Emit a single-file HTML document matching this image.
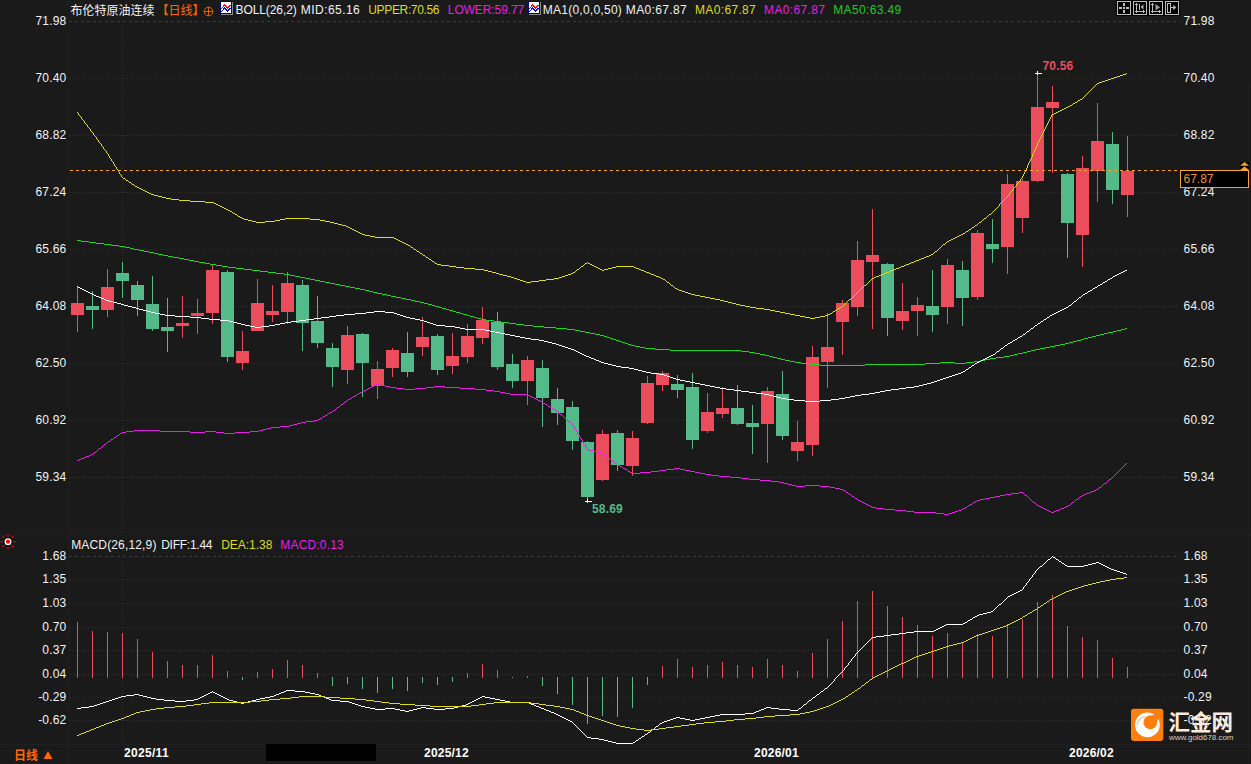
<!DOCTYPE html><html><head><meta charset="utf-8"><title>chart</title><style>html,body{margin:0;padding:0;background:#1a1a1a;}body{width:1251px;height:764px;overflow:hidden;font-family:"Liberation Sans",sans-serif;}</style></head><body><svg width="1251" height="764" viewBox="0 0 1251 764" style="display:block">
<rect x="0" y="0" width="1251" height="764" fill="#1a1a1a"/>
<g shape-rendering="crispEdges">
<rect x="69" y="0" width="1" height="764" fill="#1f1f1f"/>
<rect x="0" y="535" width="1251" height="1" fill="#1f1f1f"/>
<rect x="0" y="744" width="1251" height="1" fill="#202020"/>
<rect x="1248" y="83" width="1" height="681" fill="#1f1f1f"/>
<line x1="70" y1="78.5" x2="1180" y2="78.5" stroke="#323232" stroke-width="1" stroke-dasharray="1 2"/>
<line x1="70" y1="135.5" x2="1180" y2="135.5" stroke="#323232" stroke-width="1" stroke-dasharray="1 2"/>
<line x1="70" y1="192.5" x2="1180" y2="192.5" stroke="#323232" stroke-width="1" stroke-dasharray="1 2"/>
<line x1="70" y1="249.5" x2="1180" y2="249.5" stroke="#323232" stroke-width="1" stroke-dasharray="1 2"/>
<line x1="70" y1="306.5" x2="1180" y2="306.5" stroke="#323232" stroke-width="1" stroke-dasharray="1 2"/>
<line x1="70" y1="363.5" x2="1180" y2="363.5" stroke="#323232" stroke-width="1" stroke-dasharray="1 2"/>
<line x1="70" y1="420.5" x2="1180" y2="420.5" stroke="#323232" stroke-width="1" stroke-dasharray="1 2"/>
<line x1="70" y1="477.5" x2="1180" y2="477.5" stroke="#323232" stroke-width="1" stroke-dasharray="1 2"/>
<line x1="69" y1="21.5" x2="1180" y2="21.5" stroke="#3a3a3a" stroke-width="1" stroke-dasharray="3 3"/>
<line x1="70" y1="579.5" x2="1180" y2="579.5" stroke="#323232" stroke-width="1" stroke-dasharray="1 2"/>
<line x1="70" y1="603.5" x2="1180" y2="603.5" stroke="#323232" stroke-width="1" stroke-dasharray="1 2"/>
<line x1="70" y1="627.5" x2="1180" y2="627.5" stroke="#323232" stroke-width="1" stroke-dasharray="1 2"/>
<line x1="70" y1="650.5" x2="1180" y2="650.5" stroke="#323232" stroke-width="1" stroke-dasharray="1 2"/>
<line x1="70" y1="674.5" x2="1180" y2="674.5" stroke="#323232" stroke-width="1" stroke-dasharray="1 2"/>
<line x1="70" y1="697.5" x2="1180" y2="697.5" stroke="#323232" stroke-width="1" stroke-dasharray="1 2"/>
<line x1="70" y1="720.5" x2="1180" y2="720.5" stroke="#323232" stroke-width="1" stroke-dasharray="1 2"/>
<line x1="69" y1="556.5" x2="1180" y2="556.5" stroke="#3a3a3a" stroke-width="1" stroke-dasharray="3 3"/>
<line x1="122.5" y1="21" x2="122.5" y2="534" stroke="#323232" stroke-width="1" stroke-dasharray="1 2"/>
<line x1="122.5" y1="558" x2="122.5" y2="744" stroke="#323232" stroke-width="1" stroke-dasharray="1 2"/>
</g>
<g shape-rendering="crispEdges">
<rect x="77" y="286" width="1" height="46" fill="#eb4d5d"/>
<rect x="71" y="303" width="13" height="12" fill="#eb4d5d"/>
<rect x="92" y="291" width="1" height="38" fill="#54ba89"/>
<rect x="86" y="306" width="13" height="4" fill="#54ba89"/>
<rect x="107" y="269" width="1" height="48" fill="#eb4d5d"/>
<rect x="101" y="287" width="13" height="23" fill="#eb4d5d"/>
<rect x="122" y="262" width="1" height="36" fill="#54ba89"/>
<rect x="116" y="273" width="13" height="8" fill="#54ba89"/>
<rect x="137" y="281" width="1" height="35" fill="#54ba89"/>
<rect x="131" y="285" width="13" height="15" fill="#54ba89"/>
<rect x="152" y="276" width="1" height="55" fill="#54ba89"/>
<rect x="146" y="304" width="13" height="25" fill="#54ba89"/>
<rect x="167" y="298" width="1" height="54" fill="#54ba89"/>
<rect x="161" y="327" width="13" height="4" fill="#54ba89"/>
<rect x="182" y="296" width="1" height="42" fill="#eb4d5d"/>
<rect x="176" y="323" width="13" height="3" fill="#eb4d5d"/>
<rect x="197" y="299" width="1" height="35" fill="#eb4d5d"/>
<rect x="191" y="313" width="13" height="3" fill="#eb4d5d"/>
<rect x="212" y="265" width="1" height="59" fill="#eb4d5d"/>
<rect x="206" y="270" width="13" height="43" fill="#eb4d5d"/>
<rect x="227" y="270" width="1" height="92" fill="#54ba89"/>
<rect x="221" y="272" width="13" height="85" fill="#54ba89"/>
<rect x="242" y="331" width="1" height="39" fill="#eb4d5d"/>
<rect x="236" y="351" width="13" height="12" fill="#eb4d5d"/>
<rect x="257" y="279" width="1" height="52" fill="#eb4d5d"/>
<rect x="251" y="303" width="13" height="28" fill="#eb4d5d"/>
<rect x="272" y="285" width="1" height="37" fill="#eb4d5d"/>
<rect x="266" y="311" width="13" height="4" fill="#eb4d5d"/>
<rect x="287" y="272" width="1" height="52" fill="#eb4d5d"/>
<rect x="281" y="283" width="13" height="29" fill="#eb4d5d"/>
<rect x="302" y="280" width="1" height="71" fill="#54ba89"/>
<rect x="296" y="285" width="13" height="38" fill="#54ba89"/>
<rect x="317" y="296" width="1" height="52" fill="#54ba89"/>
<rect x="311" y="321" width="13" height="22" fill="#54ba89"/>
<rect x="332" y="343" width="1" height="44" fill="#54ba89"/>
<rect x="326" y="348" width="13" height="19" fill="#54ba89"/>
<rect x="347" y="326" width="1" height="58" fill="#eb4d5d"/>
<rect x="341" y="335" width="13" height="35" fill="#eb4d5d"/>
<rect x="362" y="333" width="1" height="64" fill="#54ba89"/>
<rect x="356" y="334" width="13" height="29" fill="#54ba89"/>
<rect x="377" y="361" width="1" height="38" fill="#eb4d5d"/>
<rect x="371" y="369" width="13" height="17" fill="#eb4d5d"/>
<rect x="392" y="348" width="1" height="29" fill="#eb4d5d"/>
<rect x="386" y="350" width="13" height="18" fill="#eb4d5d"/>
<rect x="407" y="332" width="1" height="45" fill="#54ba89"/>
<rect x="401" y="353" width="13" height="19" fill="#54ba89"/>
<rect x="422" y="317" width="1" height="39" fill="#eb4d5d"/>
<rect x="416" y="337" width="13" height="10" fill="#eb4d5d"/>
<rect x="437" y="334" width="1" height="41" fill="#54ba89"/>
<rect x="431" y="336" width="13" height="34" fill="#54ba89"/>
<rect x="452" y="333" width="1" height="41" fill="#eb4d5d"/>
<rect x="446" y="356" width="13" height="10" fill="#eb4d5d"/>
<rect x="467" y="324" width="1" height="39" fill="#eb4d5d"/>
<rect x="461" y="336" width="13" height="21" fill="#eb4d5d"/>
<rect x="482" y="307" width="1" height="37" fill="#eb4d5d"/>
<rect x="476" y="320" width="13" height="18" fill="#eb4d5d"/>
<rect x="497" y="312" width="1" height="58" fill="#54ba89"/>
<rect x="491" y="322" width="13" height="45" fill="#54ba89"/>
<rect x="512" y="354" width="1" height="34" fill="#54ba89"/>
<rect x="506" y="364" width="13" height="17" fill="#54ba89"/>
<rect x="527" y="356" width="1" height="49" fill="#eb4d5d"/>
<rect x="521" y="360" width="13" height="21" fill="#eb4d5d"/>
<rect x="542" y="360" width="1" height="67" fill="#54ba89"/>
<rect x="536" y="368" width="13" height="30" fill="#54ba89"/>
<rect x="557" y="388" width="1" height="37" fill="#54ba89"/>
<rect x="551" y="399" width="13" height="14" fill="#54ba89"/>
<rect x="572" y="401" width="1" height="49" fill="#54ba89"/>
<rect x="566" y="407" width="13" height="34" fill="#54ba89"/>
<rect x="587" y="441" width="1" height="58" fill="#54ba89"/>
<rect x="581" y="442" width="13" height="55" fill="#54ba89"/>
<rect x="602" y="430" width="1" height="51" fill="#eb4d5d"/>
<rect x="596" y="434" width="13" height="46" fill="#eb4d5d"/>
<rect x="617" y="430" width="1" height="41" fill="#54ba89"/>
<rect x="611" y="433" width="13" height="32" fill="#54ba89"/>
<rect x="632" y="431" width="1" height="45" fill="#eb4d5d"/>
<rect x="626" y="438" width="13" height="28" fill="#eb4d5d"/>
<rect x="647" y="376" width="1" height="48" fill="#eb4d5d"/>
<rect x="641" y="383" width="13" height="40" fill="#eb4d5d"/>
<rect x="662" y="371" width="1" height="20" fill="#eb4d5d"/>
<rect x="656" y="373" width="13" height="12" fill="#eb4d5d"/>
<rect x="677" y="375" width="1" height="23" fill="#54ba89"/>
<rect x="671" y="384" width="13" height="6" fill="#54ba89"/>
<rect x="692" y="373" width="1" height="76" fill="#54ba89"/>
<rect x="686" y="387" width="13" height="53" fill="#54ba89"/>
<rect x="707" y="393" width="1" height="40" fill="#eb4d5d"/>
<rect x="701" y="412" width="13" height="19" fill="#eb4d5d"/>
<rect x="722" y="387" width="1" height="31" fill="#eb4d5d"/>
<rect x="716" y="408" width="13" height="6" fill="#eb4d5d"/>
<rect x="737" y="385" width="1" height="40" fill="#54ba89"/>
<rect x="731" y="408" width="13" height="16" fill="#54ba89"/>
<rect x="752" y="405" width="1" height="49" fill="#54ba89"/>
<rect x="746" y="423" width="13" height="4" fill="#54ba89"/>
<rect x="767" y="387" width="1" height="76" fill="#eb4d5d"/>
<rect x="761" y="391" width="13" height="33" fill="#eb4d5d"/>
<rect x="782" y="371" width="1" height="69" fill="#54ba89"/>
<rect x="776" y="394" width="13" height="42" fill="#54ba89"/>
<rect x="797" y="421" width="1" height="40" fill="#eb4d5d"/>
<rect x="791" y="442" width="13" height="9" fill="#eb4d5d"/>
<rect x="812" y="346" width="1" height="110" fill="#eb4d5d"/>
<rect x="806" y="357" width="13" height="88" fill="#eb4d5d"/>
<rect x="827" y="313" width="1" height="75" fill="#eb4d5d"/>
<rect x="821" y="347" width="13" height="15" fill="#eb4d5d"/>
<rect x="842" y="300" width="1" height="55" fill="#eb4d5d"/>
<rect x="836" y="303" width="13" height="19" fill="#eb4d5d"/>
<rect x="857" y="241" width="1" height="75" fill="#eb4d5d"/>
<rect x="851" y="260" width="13" height="47" fill="#eb4d5d"/>
<rect x="872" y="209" width="1" height="120" fill="#eb4d5d"/>
<rect x="866" y="255" width="13" height="7" fill="#eb4d5d"/>
<rect x="887" y="263" width="1" height="73" fill="#54ba89"/>
<rect x="881" y="264" width="13" height="54" fill="#54ba89"/>
<rect x="902" y="283" width="1" height="47" fill="#eb4d5d"/>
<rect x="896" y="311" width="13" height="10" fill="#eb4d5d"/>
<rect x="917" y="297" width="1" height="39" fill="#eb4d5d"/>
<rect x="911" y="305" width="13" height="6" fill="#eb4d5d"/>
<rect x="932" y="270" width="1" height="62" fill="#54ba89"/>
<rect x="926" y="306" width="13" height="9" fill="#54ba89"/>
<rect x="947" y="259" width="1" height="65" fill="#eb4d5d"/>
<rect x="941" y="265" width="13" height="42" fill="#eb4d5d"/>
<rect x="962" y="261" width="1" height="65" fill="#54ba89"/>
<rect x="956" y="270" width="13" height="28" fill="#54ba89"/>
<rect x="977" y="230" width="1" height="70" fill="#eb4d5d"/>
<rect x="971" y="233" width="13" height="64" fill="#eb4d5d"/>
<rect x="992" y="219" width="1" height="44" fill="#54ba89"/>
<rect x="986" y="244" width="13" height="5" fill="#54ba89"/>
<rect x="1007" y="174" width="1" height="100" fill="#eb4d5d"/>
<rect x="1001" y="184" width="13" height="63" fill="#eb4d5d"/>
<rect x="1022" y="179" width="1" height="54" fill="#eb4d5d"/>
<rect x="1016" y="181" width="13" height="37" fill="#eb4d5d"/>
<rect x="1037" y="75" width="1" height="107" fill="#eb4d5d"/>
<rect x="1031" y="107" width="13" height="74" fill="#eb4d5d"/>
<rect x="1052" y="86" width="1" height="87" fill="#eb4d5d"/>
<rect x="1046" y="102" width="13" height="6" fill="#eb4d5d"/>
<rect x="1067" y="173" width="1" height="85" fill="#54ba89"/>
<rect x="1061" y="174" width="13" height="49" fill="#54ba89"/>
<rect x="1082" y="156" width="1" height="111" fill="#eb4d5d"/>
<rect x="1076" y="168" width="13" height="67" fill="#eb4d5d"/>
<rect x="1097" y="103" width="1" height="99" fill="#eb4d5d"/>
<rect x="1091" y="141" width="13" height="30" fill="#eb4d5d"/>
<rect x="1112" y="132" width="1" height="72" fill="#54ba89"/>
<rect x="1106" y="144" width="13" height="46" fill="#54ba89"/>
<rect x="1127" y="136" width="1" height="81" fill="#eb4d5d"/>
<rect x="1121" y="171" width="13" height="24" fill="#eb4d5d"/>
</g>
<line shape-rendering="crispEdges" x1="70" y1="170.5" x2="1180" y2="170.5" stroke="#f6a233" stroke-width="1" stroke-dasharray="3 3"/>
<path d="M111 245h8v1h-8zM809 364h11v1h-11zM865 364h60v1h-60zM194 261h5v1h-5zM801 363h8v1h-8zM925 363h15v1h-15zM955 363h11v1h-11zM173 257h6v1h-6zM635 346h5v1h-5zM1050 346h5v1h-5zM144 251h5v1h-5zM769 356h4v1h-4zM1004 356h6v1h-6zM820 365h45v1h-45zM125 247h5v1h-5zM244 269h8v1h-8zM453 311h3v1h-3zM544 327h12v1h-12zM640 347h5v1h-5zM1045 347h5v1h-5zM655 349h15v1h-15zM1035 349h5v1h-5zM415 301h5v1h-5zM494 321h7v1h-7zM670 350h71v1h-71zM1031 350h4v1h-4zM396 297h5v1h-5zM613 339h3v1h-3zM1081 339h3v1h-3zM236 268h8v1h-8zM89 242h7v1h-7zM345 286h5v1h-5zM435 306h4v1h-4zM325 282h5v1h-5zM501 322h8v1h-8zM295 276h5v1h-5zM773 357h4v1h-4zM996 357h8v1h-8zM456 312h4v1h-4zM604 336h3v1h-3zM1092 336h4v1h-4zM781 359h4v1h-4zM985 359h5v1h-5zM575 330h5v1h-5zM1117 330h4v1h-4zM96 243h8v1h-8zM216 265h6v1h-6zM260 271h8v1h-8zM377 293h5v1h-5zM600 335h4v1h-4zM1096 335h4v1h-4zM607 337h3v1h-3zM1088 337h4v1h-4zM795 362h6v1h-6zM940 362h15v1h-15zM966 362h8v1h-8zM616 340h3v1h-3zM1077 340h4v1h-4zM567 329h8v1h-8zM1121 329h4v1h-4zM139 250h5v1h-5zM104 244h7v1h-7zM765 355h4v1h-4zM1010 355h4v1h-4zM741 351h8v1h-8zM1027 351h4v1h-4zM411 300h4v1h-4zM382 294h5v1h-5zM556 328h11v1h-11zM1125 328h2v1h-2zM310 279h5v1h-5zM290 275h5v1h-5zM590 333h5v1h-5zM1104 333h4v1h-4zM777 358h4v1h-4zM990 358h6v1h-6zM749 352h6v1h-6zM1023 352h4v1h-4zM610 338h3v1h-3zM1084 338h4v1h-4zM442 308h4v1h-4zM625 343h3v1h-3zM1065 343h4v1h-4zM585 332h5v1h-5zM1108 332h5v1h-5zM163 255h5v1h-5zM460 313h3v1h-3zM524 325h9v1h-9zM481 319h5v1h-5zM619 341h3v1h-3zM1073 341h4v1h-4zM268 272h8v1h-8zM222 266h6v1h-6zM463 314h4v1h-4zM645 348h10v1h-10zM1040 348h5v1h-5zM785 360h5v1h-5zM980 360h5v1h-5zM81 241h8v1h-8zM205 263h5v1h-5zM439 307h3v1h-3zM760 354h5v1h-5zM1014 354h4v1h-4zM252 270h8v1h-8zM210 264h6v1h-6zM420 302h4v1h-4zM401 298h5v1h-5zM628 344h3v1h-3zM1060 344h5v1h-5zM467 315h3v1h-3zM330 283h5v1h-5zM276 273h8v1h-8zM360 289h5v1h-5zM486 320h8v1h-8zM449 310h4v1h-4zM755 353h5v1h-5zM1018 353h5v1h-5zM790 361h5v1h-5zM974 361h6v1h-6zM509 323h7v1h-7zM149 252h5v1h-5zM130 248h4v1h-4zM184 259h5v1h-5zM228 267h8v1h-8zM446 309h3v1h-3zM580 331h5v1h-5zM1113 331h4v1h-4zM631 345h4v1h-4zM1055 345h5v1h-5zM365 290h4v1h-4zM199 262h6v1h-6zM335 284h5v1h-5zM533 326h11v1h-11zM315 280h5v1h-5zM622 342h3v1h-3zM1069 342h4v1h-4zM595 334h5v1h-5zM1100 334h4v1h-4zM474 317h3v1h-3zM369 291h4v1h-4zM350 287h5v1h-5zM516 324h8v1h-8zM300 277h5v1h-5zM119 246h6v1h-6zM77 240h4v1h-4zM470 316h4v1h-4zM154 253h4v1h-4zM424 303h4v1h-4zM355 288h5v1h-5zM305 278h5v1h-5zM134 249h5v1h-5zM406 299h5v1h-5zM387 295h4v1h-4zM284 274h6v1h-6zM391 296h5v1h-5zM320 281h5v1h-5zM158 254h5v1h-5zM189 260h5v1h-5zM428 304h4v1h-4zM477 318h4v1h-4zM432 305h3v1h-3zM373 292h4v1h-4zM340 285h5v1h-5zM179 258h5v1h-5zM168 256h5v1h-5z" fill="#1ed81e" shape-rendering="crispEdges"/>
<path d="M682 291h3v1h-3zM523 281h3v1h-3zM531 281h8v1h-8zM426 257h2v1h-2zM924 257h2v1h-2zM171 199h8v1h-8zM126 180h2v1h-2zM256 222h9v1h-9zM330 222h4v1h-4zM979 222h2v1h-2zM456 267h8v1h-8zM596 267h2v1h-2zM612 267h4v1h-4zM634 267h2v1h-2zM899 267h2v1h-2zM1080 99h2v1h-2zM911 262h3v1h-3zM230 211h2v1h-2zM190 201h15v1h-15zM252 221h4v1h-4zM265 221h10v1h-10zM325 221h5v1h-5zM675 288h2v1h-2zM166 198h5v1h-5zM800 316h5v1h-5zM820 316h5v1h-5zM520 280h3v1h-3zM539 280h7v1h-7zM740 305h5v1h-5zM499 274h4v1h-4zM568 274h3v1h-3zM651 274h3v1h-3zM881 274h3v1h-3zM334 223h4v1h-4zM158 196h4v1h-4zM242 218h2v1h-2zM285 218h25v1h-25zM984 218h2v1h-2zM449 266h7v1h-7zM581 266h2v1h-2zM594 266h2v1h-2zM616 266h18v1h-18zM901 266h3v1h-3zM1117 76h3v1h-3zM224 208h2v1h-2zM770 310h5v1h-5zM835 310h2v1h-2zM123 178h2v1h-2zM475 269h9v1h-9zM577 269h2v1h-2zM600 269h2v1h-2zM604 269h4v1h-4zM639 269h2v1h-2zM894 269h2v1h-2zM162 197h4v1h-4zM226 209h2v1h-2zM375 237h19v1h-19zM955 237h2v1h-2zM724 301h4v1h-4zM705 297h5v1h-5zM805 317h5v1h-5zM815 317h5v1h-5zM926 256h3v1h-3zM785 313h5v1h-5zM830 313h2v1h-2zM464 268h11v1h-11zM598 268h2v1h-2zM608 268h4v1h-4zM636 268h3v1h-3zM896 268h3v1h-3zM179 200h11v1h-11zM370 236h5v1h-5zM957 236h2v1h-2zM435 263h2v1h-2zM585 263h2v1h-2zM588 263h2v1h-2zM909 263h2v1h-2zM745 306h5v1h-5zM132 184h2v1h-2zM685 292h3v1h-3zM756 308h8v1h-8zM838 308h2v1h-2zM775 311h5v1h-5zM833 311h2v1h-2zM728 302h4v1h-4zM503 275h4v1h-4zM565 275h3v1h-3zM654 275h2v1h-2zM879 275h2v1h-2zM810 318h5v1h-5zM1056 112h2v1h-2zM790 314h5v1h-5zM828 314h2v1h-2zM921 258h3v1h-3zM222 207h2v1h-2zM1064 108h2v1h-2zM484 270h4v1h-4zM602 270h2v1h-2zM641 270h3v1h-3zM891 270h3v1h-3zM244 219h4v1h-4zM280 219h5v1h-5zM310 219h10v1h-10zM688 293h3v1h-3zM1102 81h3v1h-3zM338 224h4v1h-4zM248 220h4v1h-4zM275 220h5v1h-5zM320 220h5v1h-5zM526 282h5v1h-5zM667 282h2v1h-2zM507 276h4v1h-4zM562 276h3v1h-3zM656 276h3v1h-3zM876 276h3v1h-3zM348 227h2v1h-2zM972 227h2v1h-2zM671 285h2v1h-2zM864 285h2v1h-2zM1114 77h3v1h-3zM750 307h6v1h-6zM840 307h2v1h-2zM437 264h4v1h-4zM590 264h2v1h-2zM906 264h3v1h-3zM1108 79h3v1h-3zM420 253h2v1h-2zM710 298h5v1h-5zM691 294h4v1h-4zM1078 100h2v1h-2zM931 254h2v1h-2zM795 315h5v1h-5zM825 315h3v1h-3zM214 203h2v1h-2zM764 309h6v1h-6zM205 202h9v1h-9zM441 265h8v1h-8zM592 265h2v1h-2zM904 265h2v1h-2zM715 299h5v1h-5zM849 299h2v1h-2zM511 277h3v1h-3zM559 277h3v1h-3zM659 277h2v1h-2zM874 277h2v1h-2zM1060 110h2v1h-2zM417 251h2v1h-2zM935 251h2v1h-2zM780 312h5v1h-5zM700 296h5v1h-5zM492 272h4v1h-4zM573 272h2v1h-2zM646 272h3v1h-3zM886 272h3v1h-3zM358 232h2v1h-2zM514 278h3v1h-3zM554 278h5v1h-5zM661 278h2v1h-2zM872 278h2v1h-2zM352 229h2v1h-2zM969 229h2v1h-2zM362 234h3v1h-3zM961 234h2v1h-2zM143 190h2v1h-2zM342 225h4v1h-4zM975 225h2v1h-2zM423 255h2v1h-2zM929 255h2v1h-2zM1070 105h2v1h-2zM488 271h4v1h-4zM644 271h2v1h-2zM889 271h2v1h-2zM149 193h2v1h-2zM356 231h2v1h-2zM966 231h2v1h-2zM1075 102h2v1h-2zM432 261h2v1h-2zM914 261h2v1h-2zM732 303h4v1h-4zM151 194h3v1h-3zM517 279h3v1h-3zM546 279h8v1h-8zM663 279h2v1h-2zM145 191h2v1h-2zM360 233h2v1h-2zM963 233h2v1h-2zM137 187h2v1h-2zM238 216h2v1h-2zM496 273h3v1h-3zM571 273h2v1h-2zM649 273h2v1h-2zM884 273h2v1h-2zM695 295h5v1h-5zM1052 114h2v1h-2zM394 238h2v1h-2zM953 238h2v1h-2zM218 205h2v1h-2zM916 260h3v1h-3zM1099 82h3v1h-3zM404 243h2v1h-2zM1058 111h2v1h-2zM141 189h2v1h-2zM402 242h2v1h-2zM235 214h2v1h-2zM989 214h2v1h-2zM1066 107h2v1h-2zM736 304h4v1h-4zM398 240h2v1h-2zM949 240h2v1h-2zM154 195h4v1h-4zM365 235h5v1h-5zM959 235h2v1h-2zM1062 109h2v1h-2zM406 244h2v1h-2zM943 244h2v1h-2zM677 289h2v1h-2zM1111 78h3v1h-3zM135 186h2v1h-2zM129 182h2v1h-2zM408 245h2v1h-2zM233 213h2v1h-2zM1054 113h2v1h-2zM216 204h2v1h-2zM1123 74h3v1h-3zM396 239h2v1h-2zM951 239h2v1h-2zM220 206h2v1h-2zM720 300h4v1h-4zM400 241h2v1h-2zM947 241h2v1h-2zM1097 83h2v1h-2zM1120 75h3v1h-3zM679 290h3v1h-3zM1068 106h2v1h-2zM228 210h2v1h-2zM1073 103h2v1h-2zM147 192h2v1h-2zM139 188h2v1h-2zM346 226h2v1h-2zM350 228h2v1h-2zM414 249h2v1h-2zM429 259h2v1h-2zM919 259h2v1h-2zM354 230h2v1h-2zM240 217h2v1h-2zM411 247h2v1h-2zM1105 80h3v1h-3zM87 125h1v2h-1zM1035 148h1v2h-1zM1037 143h1v3h-1zM1007 196h1v1h-1zM1009 193h1v2h-1zM974 226h1v1h-1zM1029 161h1v2h-1zM1049 119h1v2h-1zM867 283h1v1h-1zM113 162h1v2h-1zM1041 135h1v2h-1zM121 175h1v2h-1zM937 250h1v1h-1zM1082 98h1v1h-1zM79 115h1v1h-1zM88 127h1v1h-1zM122 177h1v1h-1zM1005 198h1v1h-1zM1028 163h1v2h-1zM1006 197h1v1h-1zM978 223h1v1h-1zM128 181h1v1h-1zM98 140h1v2h-1zM860 289h1v1h-1zM101 144h1v2h-1zM1003 200h1v1h-1zM1004 199h1v1h-1zM118 170h1v2h-1zM1047 123h1v2h-1zM1019 181h1v1h-1zM858 291h1v1h-1zM1021 178h1v1h-1zM93 133h1v2h-1zM859 290h1v1h-1zM102 146h1v1h-1zM1033 152h1v2h-1zM1026 168h1v2h-1zM1034 150h1v2h-1zM1032 154h1v3h-1zM1046 125h1v2h-1zM1015 186h1v1h-1zM1017 183h1v1h-1zM1018 182h1v1h-1zM857 292h1v1h-1zM1020 179h1v2h-1zM844 304h1v1h-1zM410 246h1v1h-1zM1001 202h1v1h-1zM579 268h1v1h-1zM939 248h1v1h-1zM1016 184h1v2h-1zM1014 187h1v1h-1zM940 247h1v1h-1zM842 306h1v1h-1zM665 280h1v1h-1zM1039 139h1v2h-1zM1031 157h1v2h-1zM94 135h1v1h-1zM85 123h1v1h-1zM111 159h1v2h-1zM1043 131h1v2h-1zM1045 127h1v2h-1zM1044 129h1v2h-1zM416 250h1v1h-1zM997 207h1v1h-1zM77 112h1v1h-1zM999 204h1v2h-1zM86 124h1v1h-1zM583 265h1v1h-1zM938 249h1v1h-1zM584 264h1v1h-1zM666 281h1v1h-1zM95 136h1v1h-1zM116 167h1v2h-1zM1090 90h1v1h-1zM1024 172h1v2h-1zM995 209h1v1h-1zM673 286h1v1h-1zM587 262h1v1h-1zM109 156h1v2h-1zM1088 92h1v1h-1zM117 169h1v1h-1zM1089 91h1v1h-1zM120 174h1v1h-1zM84 121h1v2h-1zM78 113h1v2h-1zM983 219h1v1h-1zM1030 159h1v2h-1zM1087 93h1v1h-1zM1022 176h1v2h-1zM1040 137h1v2h-1zM1042 133h1v2h-1zM1077 101h1v1h-1zM134 185h1v1h-1zM987 216h1v1h-1zM674 287h1v1h-1zM871 279h1v1h-1zM1002 201h1v1h-1zM103 147h1v2h-1zM428 258h1v1h-1zM856 293h1v1h-1zM422 254h1v1h-1zM106 151h1v2h-1zM114 164h1v2h-1zM1000 203h1v1h-1zM998 206h1v1h-1zM1027 165h1v3h-1zM1008 195h1v1h-1zM232 212h1v1h-1zM1038 141h1v2h-1zM1025 170h1v2h-1zM855 294h1v1h-1zM119 172h1v2h-1zM107 153h1v1h-1zM996 208h1v1h-1zM853 296h1v1h-1zM112 161h1v1h-1zM854 295h1v1h-1zM837 309h1v1h-1zM1126 73h1v1h-1zM115 166h1v1h-1zM131 183h1v1h-1zM1036 146h1v2h-1zM96 137h1v2h-1zM81 117h1v2h-1zM90 129h1v2h-1zM1095 85h1v1h-1zM1050 117h1v2h-1zM1096 84h1v1h-1zM965 232h1v1h-1zM1051 115h1v2h-1zM99 142h1v1h-1zM108 154h1v2h-1zM847 301h1v1h-1zM832 312h1v1h-1zM125 179h1v1h-1zM988 215h1v1h-1zM994 210h1v1h-1zM977 224h1v1h-1zM91 131h1v1h-1zM100 143h1v1h-1zM942 245h1v1h-1zM845 303h1v1h-1zM992 212h1v1h-1zM82 119h1v1h-1zM1012 190h1v1h-1zM981 221h1v1h-1zM1048 121h1v2h-1zM982 220h1v1h-1zM870 280h1v1h-1zM1013 188h1v2h-1zM237 215h1v1h-1zM1085 95h1v1h-1zM968 230h1v1h-1zM1023 174h1v2h-1zM1072 104h1v1h-1zM434 262h1v1h-1zM83 120h1v1h-1zM419 252h1v1h-1zM92 132h1v1h-1zM1083 97h1v1h-1zM971 228h1v1h-1zM1084 96h1v1h-1zM863 286h1v1h-1zM110 158h1v1h-1zM669 283h1v1h-1zM861 288h1v1h-1zM862 287h1v1h-1zM97 139h1v1h-1zM848 300h1v1h-1zM866 284h1v1h-1zM670 284h1v1h-1zM80 116h1v1h-1zM846 302h1v1h-1zM851 298h1v1h-1zM89 128h1v1h-1zM852 297h1v1h-1zM993 211h1v1h-1zM941 246h1v1h-1zM946 242h1v1h-1zM1086 94h1v1h-1zM576 270h1v1h-1zM1094 86h1v1h-1zM1093 87h1v1h-1zM991 213h1v1h-1zM431 260h1v1h-1zM986 217h1v1h-1zM425 256h1v1h-1zM945 243h1v1h-1zM104 149h1v1h-1zM575 271h1v1h-1zM934 252h1v1h-1zM580 267h1v1h-1zM1092 88h1v1h-1zM843 305h1v1h-1zM413 248h1v1h-1zM1010 192h1v1h-1zM1011 191h1v1h-1zM933 253h1v1h-1zM105 150h1v1h-1zM868 282h1v1h-1zM869 281h1v1h-1zM1091 89h1v1h-1z" fill="#dcdc1e" shape-rendering="crispEdges"/>
<path d="M796 486h9v1h-9zM820 486h10v1h-10zM749 479h11v1h-11zM1109 479h2v1h-2zM364 390h2v1h-2zM486 390h8v1h-8zM593 451h4v1h-4zM868 505h2v1h-2zM968 505h2v1h-2zM1037 505h2v1h-2zM1068 505h2v1h-2zM872 507h4v1h-4zM965 507h2v1h-2zM1041 507h2v1h-2zM1064 507h2v1h-2zM630 472h2v1h-2zM640 472h11v1h-11zM695 472h5v1h-5zM362 391h2v1h-2zM494 391h6v1h-6zM134 430h26v1h-26zM259 430h4v1h-4zM990 497h5v1h-5zM792 485h4v1h-4zM805 485h15v1h-15zM705 474h6v1h-6zM862 502h2v1h-2zM973 502h2v1h-2zM1033 502h2v1h-2zM1072 502h2v1h-2zM368 388h2v1h-2zM396 388h8v1h-8zM415 388h11v1h-11zM460 388h15v1h-15zM122 432h4v1h-4zM190 432h15v1h-15zM216 432h8v1h-8zM235 432h15v1h-15zM330 412h2v1h-2zM108 441h2v1h-2zM623 468h2v1h-2zM674 468h6v1h-6zM79 459h2v1h-2zM1011 493h8v1h-8zM1086 493h3v1h-3zM306 421h8v1h-8zM568 421h2v1h-2zM719 476h11v1h-11zM84 457h2v1h-2zM607 457h2v1h-2zM280 426h9v1h-9zM895 510h11v1h-11zM958 510h3v1h-3zM1047 510h2v1h-2zM1056 510h3v1h-3zM120 433h2v1h-2zM224 433h11v1h-11zM366 389h2v1h-2zM404 389h11v1h-11zM475 389h11v1h-11zM510 394h18v1h-18zM587 449h2v1h-2zM370 387h2v1h-2zM390 387h6v1h-6zM426 387h8v1h-8zM445 387h15v1h-15zM835 488h5v1h-5zM730 477h11v1h-11zM659 470h7v1h-7zM685 470h5v1h-5zM632 473h8v1h-8zM700 473h5v1h-5zM846 492h2v1h-2zM1019 492h4v1h-4zM1089 492h2v1h-2zM126 431h8v1h-8zM160 431h30v1h-30zM205 431h11v1h-11zM250 431h9v1h-9zM914 512h22v1h-22zM952 512h3v1h-3zM1051 512h3v1h-3zM589 450h4v1h-4zM788 484h4v1h-4zM628 471h2v1h-2zM651 471h8v1h-8zM690 471h5v1h-5zM293 424h4v1h-4zM771 481h8v1h-8zM936 513h8v1h-8zM949 513h3v1h-3zM840 489h3v1h-3zM1096 489h2v1h-2zM328 413h2v1h-2zM81 458h3v1h-3zM855 498h2v1h-2zM985 498h5v1h-5zM876 508h8v1h-8zM963 508h2v1h-2zM1043 508h2v1h-2zM1061 508h3v1h-3zM374 385h2v1h-2zM380 385h5v1h-5zM372 386h2v1h-2zM385 386h5v1h-5zM434 386h11v1h-11zM333 410h2v1h-2zM555 410h2v1h-2zM360 392h2v1h-2zM500 392h5v1h-5zM711 475h8v1h-8zM625 469h2v1h-2zM666 469h8v1h-8zM680 469h5v1h-5zM884 509h11v1h-11zM961 509h2v1h-2zM1045 509h2v1h-2zM1059 509h2v1h-2zM843 490h2v1h-2zM1094 490h2v1h-2zM779 482h5v1h-5zM271 427h9v1h-9zM906 511h8v1h-8zM955 511h3v1h-3zM1049 511h2v1h-2zM1054 511h2v1h-2zM741 478h8v1h-8zM760 480h11v1h-11zM104 444h2v1h-2zM358 393h2v1h-2zM505 393h5v1h-5zM94 452h2v1h-2zM597 452h4v1h-4zM944 514h5v1h-5zM980 499h5v1h-5zM1076 499h2v1h-2zM325 415h2v1h-2zM866 504h2v1h-2zM970 504h2v1h-2zM301 422h5v1h-5zM314 420h4v1h-4zM337 407h2v1h-2zM550 407h2v1h-2zM548 406h2v1h-2zM267 428h4v1h-4zM601 453h2v1h-2zM620 466h2v1h-2zM348 399h2v1h-2zM536 399h2v1h-2zM849 494h2v1h-2zM1005 494h6v1h-6zM1084 494h2v1h-2zM341 404h2v1h-2zM545 404h2v1h-2zM870 506h2v1h-2zM1039 506h2v1h-2zM1066 506h2v1h-2zM289 425h4v1h-4zM89 455h2v1h-2zM99 448h2v1h-2zM858 500h2v1h-2zM977 500h3v1h-3zM852 496h2v1h-2zM995 496h5v1h-5zM1080 496h2v1h-2zM860 501h2v1h-2zM975 501h2v1h-2zM376 384h4v1h-4zM91 454h2v1h-2zM603 454h2v1h-2zM114 437h2v1h-2zM1000 495h5v1h-5zM1025 495h2v1h-2zM1082 495h2v1h-2zM830 487h5v1h-5zM1099 487h2v1h-2zM297 423h4v1h-4zM323 416h2v1h-2zM77 460h2v1h-2zM611 460h2v1h-2zM864 503h2v1h-2zM615 463h2v1h-2zM538 400h2v1h-2zM353 396h2v1h-2zM530 396h2v1h-2zM784 483h4v1h-4zM1104 483h2v1h-2zM86 456h3v1h-3zM111 439h2v1h-2zM345 401h2v1h-2zM540 401h2v1h-2zM532 397h2v1h-2zM350 398h2v1h-2zM534 398h2v1h-2zM263 429h4v1h-4zM618 465h2v1h-2zM543 403h2v1h-2zM355 395h2v1h-2zM528 395h2v1h-2zM1091 491h3v1h-3zM560 414h2v1h-2zM320 418h2v1h-2zM553 409h2v1h-2zM318 419h2v1h-2zM117 435h2v1h-2zM1108 480h1v1h-1zM1113 476h1v1h-1zM579 435h1v2h-1zM103 445h1v1h-1zM1102 485h1v1h-1zM1103 484h1v1h-1zM582 440h1v2h-1zM576 430h1v2h-1zM552 408h1v1h-1zM116 436h1v1h-1zM972 503h1v1h-1zM558 412h1v1h-1zM1101 486h1v1h-1zM1030 499h1v1h-1zM107 442h1v1h-1zM610 459h1v1h-1zM96 451h1v1h-1zM1126 463h1v1h-1zM119 434h1v1h-1zM1031 500h1v1h-1zM106 443h1v1h-1zM567 420h1v1h-1zM547 405h1v1h-1zM580 437h1v2h-1zM1032 501h1v1h-1zM1123 466h1v1h-1zM1078 498h1v1h-1zM1124 465h1v1h-1zM542 402h1v1h-1zM322 417h1v1h-1zM585 445h1v2h-1zM1114 475h1v1h-1zM1121 468h1v1h-1zM557 411h1v1h-1zM848 493h1v1h-1zM574 427h1v2h-1zM1122 467h1v1h-1zM609 458h1v1h-1zM343 403h1v1h-1zM577 432h1v2h-1zM1112 477h1v1h-1zM1120 469h1v1h-1zM1107 481h1v1h-1zM332 411h1v1h-1zM622 467h1v1h-1zM617 464h1v1h-1zM1106 482h1v1h-1zM1111 478h1v1h-1zM1023 493h1v1h-1zM559 413h1v1h-1zM110 440h1v1h-1zM1024 494h1v1h-1zM570 422h1v1h-1zM967 506h1v1h-1zM583 442h1v2h-1zM857 499h1v1h-1zM845 491h1v1h-1zM93 453h1v1h-1zM581 439h1v1h-1zM627 470h1v1h-1zM347 400h1v1h-1zM584 444h1v1h-1zM573 425h1v2h-1zM613 461h1v1h-1zM1071 503h1v1h-1zM335 409h1v1h-1zM336 408h1v1h-1zM1118 471h1v1h-1zM1070 504h1v1h-1zM1075 500h1v1h-1zM327 414h1v1h-1zM357 394h1v1h-1zM339 406h1v1h-1zM1116 473h1v1h-1zM340 405h1v1h-1zM1117 472h1v1h-1zM586 447h1v2h-1zM1035 503h1v1h-1zM352 397h1v1h-1zM571 423h1v1h-1zM605 455h1v1h-1zM851 495h1v1h-1zM572 424h1v1h-1zM575 429h1v1h-1zM113 438h1v1h-1zM98 449h1v1h-1zM1098 488h1v1h-1zM606 456h1v1h-1zM565 418h1v1h-1zM97 450h1v1h-1zM102 446h1v1h-1zM566 419h1v1h-1zM1119 470h1v1h-1zM101 447h1v1h-1zM562 415h1v1h-1zM614 462h1v1h-1zM1074 501h1v1h-1zM1125 464h1v1h-1zM344 402h1v1h-1zM1027 496h1v1h-1zM1079 497h1v1h-1zM563 416h1v1h-1zM1028 497h1v1h-1zM854 497h1v1h-1zM1115 474h1v1h-1zM1036 504h1v1h-1zM564 417h1v1h-1zM1029 498h1v1h-1zM578 434h1v1h-1z" fill="#e61ee6" shape-rendering="crispEdges"/>
<path d="M151 312h4v1h-4zM366 312h8v1h-8zM385 312h9v1h-9zM1056 312h2v1h-2zM500 333h5v1h-5zM769 395h4v1h-4zM855 395h6v1h-6zM165 315h10v1h-10zM336 315h8v1h-8zM400 315h3v1h-3zM1050 315h2v1h-2zM685 381h5v1h-5zM934 381h3v1h-3zM121 304h3v1h-3zM720 388h6v1h-6zM899 388h7v1h-7zM101 298h3v1h-3zM160 314h5v1h-5zM344 314h11v1h-11zM397 314h3v1h-3zM1052 314h2v1h-2zM209 319h11v1h-11zM306 319h8v1h-8zM415 319h5v1h-5zM1044 319h2v1h-2zM155 313h5v1h-5zM355 313h11v1h-11zM394 313h3v1h-3zM1054 313h2v1h-2zM773 396h4v1h-4zM850 396h5v1h-5zM1119 273h2v1h-2zM94 295h2v1h-2zM646 372h5v1h-5zM961 372h2v1h-2zM1123 271h2v1h-2zM124 305h4v1h-4zM1069 305h2v1h-2zM255 327h6v1h-6zM455 327h5v1h-5zM190 317h11v1h-11zM321 317h8v1h-8zM406 317h4v1h-4zM1047 317h2v1h-2zM250 326h5v1h-5zM261 326h8v1h-8zM445 326h10v1h-10zM556 344h3v1h-3zM525 338h6v1h-6zM245 325h5v1h-5zM269 325h6v1h-6zM436 325h9v1h-9zM1035 325h2v1h-2zM651 373h8v1h-8zM958 373h3v1h-3zM582 354h2v1h-2zM993 354h2v1h-2zM220 320h9v1h-9zM299 320h7v1h-7zM420 320h4v1h-4zM726 389h8v1h-8zM891 389h8v1h-8zM201 318h8v1h-8zM314 318h7v1h-7zM410 318h5v1h-5zM695 383h5v1h-5zM927 383h4v1h-4zM676 379h4v1h-4zM940 379h3v1h-3zM805 401h15v1h-15zM96 296h3v1h-3zM700 384h5v1h-5zM923 384h4v1h-4zM88 292h2v1h-2zM531 339h8v1h-8zM1015 339h2v1h-2zM576 351h2v1h-2zM997 351h2v1h-2zM465 329h20v1h-20zM80 288h2v1h-2zM1093 288h2v1h-2zM608 364h4v1h-4zM559 345h3v1h-3zM1005 345h2v1h-2zM680 380h5v1h-5zM937 380h3v1h-3zM586 356h3v1h-3zM989 356h2v1h-2zM659 374h5v1h-5zM955 374h3v1h-3zM233 322h4v1h-4zM285 322h6v1h-6zM427 322h3v1h-3zM90 293h2v1h-2zM1085 293h2v1h-2zM82 289h2v1h-2zM710 386h5v1h-5zM914 386h5v1h-5zM505 334h5v1h-5zM1023 334h2v1h-2zM139 309h4v1h-4zM1062 309h2v1h-2zM485 330h5v1h-5zM143 310h4v1h-4zM1060 310h2v1h-2zM539 340h5v1h-5zM1013 340h2v1h-2zM642 371h4v1h-4zM963 371h2v1h-2zM741 391h8v1h-8zM880 391h5v1h-5zM612 365h4v1h-4zM972 365h2v1h-2zM109 301h4v1h-4zM1074 301h2v1h-2zM777 397h4v1h-4zM845 397h5v1h-5zM520 337h5v1h-5zM1018 337h2v1h-2zM715 387h5v1h-5zM906 387h8v1h-8zM490 331h5v1h-5zM1027 331h2v1h-2zM147 311h4v1h-4zM374 311h11v1h-11zM1058 311h2v1h-2zM794 400h11v1h-11zM820 400h11v1h-11zM86 291h2v1h-2zM1088 291h2v1h-2zM128 306h4v1h-4zM78 287h2v1h-2zM1095 287h2v1h-2zM664 375h3v1h-3zM952 375h3v1h-3zM1115 275h2v1h-2zM786 399h8v1h-8zM831 399h8v1h-8zM734 390h7v1h-7zM885 390h6v1h-6zM104 299h2v1h-2zM229 321h4v1h-4zM291 321h8v1h-8zM424 321h3v1h-3zM1041 321h2v1h-2zM562 346h3v1h-3zM621 367h8v1h-8zM969 367h2v1h-2zM237 323h4v1h-4zM280 323h5v1h-5zM430 323h3v1h-3zM1038 323h2v1h-2zM175 316h15v1h-15zM329 316h7v1h-7zM403 316h3v1h-3zM756 393h8v1h-8zM869 393h6v1h-6zM544 341h4v1h-4zM616 366h5v1h-5zM565 347h3v1h-3zM781 398h5v1h-5zM839 398h6v1h-6zM629 368h5v1h-5zM495 332h5v1h-5zM574 350h2v1h-2zM510 335h5v1h-5zM764 394h5v1h-5zM861 394h8v1h-8zM749 392h7v1h-7zM875 392h5v1h-5zM667 376h3v1h-3zM949 376h3v1h-3zM106 300h3v1h-3zM117 303h4v1h-4zM690 382h5v1h-5zM931 382h3v1h-3zM241 324h4v1h-4zM275 324h5v1h-5zM433 324h3v1h-3zM1103 282h2v1h-2zM578 352h2v1h-2zM568 348h3v1h-3zM1001 348h2v1h-2zM634 369h4v1h-4zM966 369h2v1h-2zM705 385h5v1h-5zM919 385h4v1h-4zM1108 279h2v1h-2zM571 349h3v1h-3zM596 360h3v1h-3zM981 360h2v1h-2zM584 355h2v1h-2zM991 355h2v1h-2zM589 357h2v1h-2zM987 357h2v1h-2zM599 361h2v1h-2zM979 361h2v1h-2zM670 377h3v1h-3zM946 377h3v1h-3zM132 307h4v1h-4zM1066 307h2v1h-2zM548 342h4v1h-4zM1010 342h2v1h-2zM673 378h3v1h-3zM943 378h3v1h-3zM591 358h3v1h-3zM985 358h2v1h-2zM113 302h4v1h-4zM136 308h3v1h-3zM1064 308h2v1h-2zM99 297h2v1h-2zM1079 297h2v1h-2zM1100 284h2v1h-2zM92 294h2v1h-2zM1083 294h2v1h-2zM1117 274h2v1h-2zM580 353h2v1h-2zM601 362h3v1h-3zM977 362h2v1h-2zM460 328h5v1h-5zM1031 328h2v1h-2zM594 359h2v1h-2zM983 359h2v1h-2zM638 370h4v1h-4zM515 336h5v1h-5zM1020 336h2v1h-2zM1113 276h2v1h-2zM1105 281h2v1h-2zM1110 278h2v1h-2zM604 363h4v1h-4zM975 363h2v1h-2zM552 343h4v1h-4zM1008 343h2v1h-2zM1098 285h2v1h-2zM1125 270h2v1h-2zM84 290h2v1h-2zM1090 290h2v1h-2zM1121 272h2v1h-2zM1107 280h1v1h-1zM77 286h1v1h-1zM965 370h1v1h-1zM1012 341h1v1h-1zM999 350h1v1h-1zM1087 292h1v1h-1zM1004 346h1v1h-1zM1033 327h1v1h-1zM1034 326h1v1h-1zM1003 347h1v1h-1zM1068 306h1v1h-1zM1046 318h1v1h-1zM1073 302h1v1h-1zM1102 283h1v1h-1zM1078 298h1v1h-1zM968 368h1v1h-1zM1037 324h1v1h-1zM1071 304h1v1h-1zM1072 303h1v1h-1zM1077 299h1v1h-1zM1007 344h1v1h-1zM1049 316h1v1h-1zM1076 300h1v1h-1zM1081 296h1v1h-1zM1022 335h1v1h-1zM1082 295h1v1h-1zM1097 286h1v1h-1zM971 366h1v1h-1zM1112 277h1v1h-1zM1026 332h1v1h-1zM1040 322h1v1h-1zM996 352h1v1h-1zM974 364h1v1h-1zM1017 338h1v1h-1zM1092 289h1v1h-1zM995 353h1v1h-1zM1025 333h1v1h-1zM1043 320h1v1h-1zM1000 349h1v1h-1zM1029 330h1v1h-1zM1030 329h1v1h-1z" fill="#ffffff" shape-rendering="crispEdges"/>
<g shape-rendering="crispEdges">
<rect x="77" y="622" width="1" height="56" fill="#eb4d5d"/>
<rect x="92" y="631" width="1" height="47" fill="#eb4d5d"/>
<rect x="107" y="632" width="1" height="46" fill="#eb4d5d"/>
<rect x="122" y="633" width="1" height="45" fill="#eb4d5d"/>
<rect x="137" y="639" width="1" height="39" fill="#eb4d5d"/>
<rect x="152" y="652" width="1" height="26" fill="#eb4d5d"/>
<rect x="167" y="661" width="1" height="17" fill="#eb4d5d"/>
<rect x="182" y="665" width="1" height="13" fill="#eb4d5d"/>
<rect x="197" y="665" width="1" height="13" fill="#eb4d5d"/>
<rect x="212" y="655" width="1" height="23" fill="#eb4d5d"/>
<rect x="227" y="671" width="1" height="7" fill="#eb4d5d"/>
<rect x="242" y="677" width="1" height="3" fill="#54ba89"/>
<rect x="257" y="672" width="1" height="6" fill="#eb4d5d"/>
<rect x="272" y="669" width="1" height="9" fill="#eb4d5d"/>
<rect x="287" y="660" width="1" height="18" fill="#eb4d5d"/>
<rect x="302" y="665" width="1" height="13" fill="#eb4d5d"/>
<rect x="317" y="673" width="1" height="5" fill="#eb4d5d"/>
<rect x="332" y="677" width="1" height="9" fill="#54ba89"/>
<rect x="347" y="677" width="1" height="7" fill="#54ba89"/>
<rect x="362" y="677" width="1" height="12" fill="#54ba89"/>
<rect x="377" y="677" width="1" height="16" fill="#54ba89"/>
<rect x="392" y="677" width="1" height="12" fill="#54ba89"/>
<rect x="407" y="677" width="1" height="14" fill="#54ba89"/>
<rect x="422" y="677" width="1" height="6" fill="#54ba89"/>
<rect x="437" y="677" width="1" height="8" fill="#54ba89"/>
<rect x="452" y="677" width="1" height="5" fill="#54ba89"/>
<rect x="467" y="673" width="1" height="5" fill="#eb4d5d"/>
<rect x="482" y="664" width="1" height="14" fill="#eb4d5d"/>
<rect x="497" y="670" width="1" height="8" fill="#eb4d5d"/>
<rect x="512" y="677" width="1" height="1" fill="#54ba89"/>
<rect x="527" y="676" width="1" height="2" fill="#eb4d5d"/>
<rect x="542" y="677" width="1" height="9" fill="#54ba89"/>
<rect x="557" y="677" width="1" height="17" fill="#54ba89"/>
<rect x="572" y="677" width="1" height="28" fill="#54ba89"/>
<rect x="587" y="677" width="1" height="47" fill="#54ba89"/>
<rect x="602" y="677" width="1" height="39" fill="#54ba89"/>
<rect x="617" y="677" width="1" height="40" fill="#54ba89"/>
<rect x="632" y="677" width="1" height="31" fill="#54ba89"/>
<rect x="647" y="677" width="1" height="8" fill="#54ba89"/>
<rect x="662" y="666" width="1" height="12" fill="#eb4d5d"/>
<rect x="677" y="659" width="1" height="19" fill="#eb4d5d"/>
<rect x="692" y="667" width="1" height="11" fill="#eb4d5d"/>
<rect x="707" y="665" width="1" height="13" fill="#eb4d5d"/>
<rect x="722" y="662" width="1" height="16" fill="#eb4d5d"/>
<rect x="737" y="665" width="1" height="13" fill="#eb4d5d"/>
<rect x="752" y="667" width="1" height="11" fill="#eb4d5d"/>
<rect x="767" y="659" width="1" height="19" fill="#eb4d5d"/>
<rect x="782" y="665" width="1" height="13" fill="#eb4d5d"/>
<rect x="797" y="671" width="1" height="7" fill="#eb4d5d"/>
<rect x="812" y="653" width="1" height="25" fill="#eb4d5d"/>
<rect x="827" y="639" width="1" height="39" fill="#eb4d5d"/>
<rect x="842" y="621" width="1" height="57" fill="#eb4d5d"/>
<rect x="857" y="601" width="1" height="77" fill="#eb4d5d"/>
<rect x="872" y="591" width="1" height="87" fill="#eb4d5d"/>
<rect x="887" y="606" width="1" height="72" fill="#eb4d5d"/>
<rect x="902" y="617" width="1" height="61" fill="#eb4d5d"/>
<rect x="917" y="625" width="1" height="53" fill="#eb4d5d"/>
<rect x="932" y="636" width="1" height="42" fill="#eb4d5d"/>
<rect x="947" y="633" width="1" height="45" fill="#eb4d5d"/>
<rect x="962" y="643" width="1" height="35" fill="#eb4d5d"/>
<rect x="977" y="634" width="1" height="44" fill="#eb4d5d"/>
<rect x="992" y="636" width="1" height="42" fill="#eb4d5d"/>
<rect x="1007" y="624" width="1" height="54" fill="#eb4d5d"/>
<rect x="1022" y="619" width="1" height="59" fill="#eb4d5d"/>
<rect x="1037" y="602" width="1" height="76" fill="#eb4d5d"/>
<rect x="1052" y="595" width="1" height="83" fill="#eb4d5d"/>
<rect x="1067" y="626" width="1" height="52" fill="#eb4d5d"/>
<rect x="1082" y="637" width="1" height="41" fill="#eb4d5d"/>
<rect x="1097" y="640" width="1" height="38" fill="#eb4d5d"/>
<rect x="1112" y="658" width="1" height="20" fill="#eb4d5d"/>
<rect x="1127" y="667" width="1" height="11" fill="#eb4d5d"/>
</g>
<path d="M126 695h8v1h-8zM139 695h4v1h-4zM204 695h2v1h-2zM219 695h2v1h-2zM274 695h2v1h-2zM319 695h2v1h-2zM103 702h3v1h-3zM237 702h4v1h-4zM244 702h4v1h-4zM349 702h3v1h-3zM470 702h2v1h-2zM510 702h19v1h-19zM564 718h2v1h-2zM673 718h3v1h-3zM680 718h5v1h-5zM700 718h5v1h-5zM558 715h2v1h-2zM715 715h5v1h-5zM616 743h17v1h-17zM587 737h4v1h-4zM599 739h5v1h-5zM77 708h4v1h-4zM370 708h5v1h-5zM385 708h10v1h-10zM417 708h4v1h-4zM426 708h8v1h-8zM445 708h9v1h-9zM541 708h3v1h-3zM764 708h2v1h-2zM771 708h8v1h-8zM799 708h2v1h-2zM109 700h3v1h-3zM164 700h11v1h-11zM186 700h8v1h-8zM229 700h4v1h-4zM252 700h4v1h-4zM331 700h9v1h-9zM474 700h2v1h-2zM500 700h5v1h-5zM809 700h2v1h-2zM375 709h10v1h-10zM395 709h5v1h-5zM413 709h4v1h-4zM434 709h11v1h-11zM544 709h2v1h-2zM761 709h3v1h-3zM779 709h11v1h-11zM1059 561h2v1h-2zM100 703h3v1h-3zM241 703h3v1h-3zM352 703h3v1h-3zM468 703h2v1h-2zM529 703h2v1h-2zM208 693h2v1h-2zM215 693h2v1h-2zM279 693h2v1h-2zM310 693h5v1h-5zM591 738h8v1h-8zM639 738h2v1h-2zM556 714h2v1h-2zM720 714h25v1h-25zM121 696h5v1h-5zM143 696h4v1h-4zM202 696h2v1h-2zM221 696h2v1h-2zM270 696h4v1h-4zM321 696h3v1h-3zM482 696h3v1h-3zM946 624h17v1h-17zM604 740h4v1h-4zM636 740h2v1h-2zM914 631h20v1h-20zM936 629h2v1h-2zM118 697h3v1h-3zM147 697h4v1h-4zM200 697h2v1h-2zM223 697h2v1h-2zM265 697h5v1h-5zM324 697h2v1h-2zM480 697h2v1h-2zM485 697h5v1h-5zM813 697h2v1h-2zM106 701h3v1h-3zM175 701h11v1h-11zM233 701h4v1h-4zM248 701h4v1h-4zM340 701h9v1h-9zM472 701h2v1h-2zM505 701h5v1h-5zM942 626h2v1h-2zM112 699h3v1h-3zM156 699h8v1h-8zM194 699h4v1h-4zM227 699h2v1h-2zM256 699h4v1h-4zM329 699h2v1h-2zM476 699h2v1h-2zM495 699h5v1h-5zM81 707h8v1h-8zM365 707h5v1h-5zM421 707h5v1h-5zM454 707h4v1h-4zM539 707h2v1h-2zM766 707h5v1h-5zM97 704h3v1h-3zM355 704h3v1h-3zM466 704h2v1h-2zM531 704h3v1h-3zM804 704h2v1h-2zM94 705h3v1h-3zM358 705h3v1h-3zM462 705h4v1h-4zM534 705h2v1h-2zM554 713h2v1h-2zM745 713h9v1h-9zM400 710h5v1h-5zM409 710h4v1h-4zM546 710h3v1h-3zM759 710h2v1h-2zM790 710h8v1h-8zM987 612h4v1h-4zM1020 590h2v1h-2zM1040 566h2v1h-2zM1067 566h17v1h-17zM1105 566h2v1h-2zM1088 564h4v1h-4zM1101 564h2v1h-2zM608 741h4v1h-4zM286 690h9v1h-9zM405 711h4v1h-4zM549 711h2v1h-2zM756 711h3v1h-3zM115 698h3v1h-3zM151 698h5v1h-5zM198 698h2v1h-2zM225 698h2v1h-2zM260 698h5v1h-5zM326 698h3v1h-3zM478 698h2v1h-2zM490 698h5v1h-5zM876 636h8v1h-8zM1048 559h2v1h-2zM1056 559h2v1h-2zM284 691h2v1h-2zM295 691h10v1h-10zM821 691h2v1h-2zM899 633h7v1h-7zM648 732h2v1h-2zM566 719h2v1h-2zM670 719h3v1h-3zM685 719h5v1h-5zM695 719h5v1h-5zM612 742h4v1h-4zM633 742h2v1h-2zM1010 595h2v1h-2zM560 716h2v1h-2zM710 716h5v1h-5zM1096 562h3v1h-3zM884 635h7v1h-7zM938 628h2v1h-2zM134 694h5v1h-5zM206 694h2v1h-2zM217 694h2v1h-2zM276 694h3v1h-3zM315 694h4v1h-4zM817 694h2v1h-2zM1107 567h2v1h-2zM89 706h5v1h-5zM361 706h4v1h-4zM458 706h4v1h-4zM536 706h3v1h-3zM906 632h8v1h-8zM825 688h2v1h-2zM1065 565h2v1h-2zM1084 565h4v1h-4zM1103 565h2v1h-2zM891 634h8v1h-8zM1123 573h3v1h-3zM977 615h2v1h-2zM210 692h2v1h-2zM213 692h2v1h-2zM281 692h3v1h-3zM305 692h5v1h-5zM968 620h2v1h-2zM568 720h2v1h-2zM667 720h3v1h-3zM690 720h5v1h-5zM1109 568h2v1h-2zM570 721h2v1h-2zM664 721h3v1h-3zM973 617h2v1h-2zM1111 569h3v1h-3zM645 734h2v1h-2zM983 613h4v1h-4zM934 630h2v1h-2zM551 712h3v1h-3zM754 712h2v1h-2zM562 717h2v1h-2zM676 717h4v1h-4zM705 717h5v1h-5zM1062 563h2v1h-2zM1092 563h4v1h-4zM1099 563h2v1h-2zM872 637h4v1h-4zM965 622h2v1h-2zM944 625h2v1h-2zM1117 571h3v1h-3zM642 736h2v1h-2zM975 616h2v1h-2zM1120 572h3v1h-3zM1018 591h2v1h-2zM940 627h2v1h-2zM963 623h2v1h-2zM979 614h4v1h-4zM1014 593h2v1h-2zM1053 557h2v1h-2zM656 726h2v1h-2zM1016 592h2v1h-2zM652 729h2v1h-2zM1012 594h2v1h-2zM1114 570h3v1h-3zM991 611h2v1h-2zM1008 596h2v1h-2zM970 619h2v1h-2zM662 722h2v1h-2zM999 604h2v1h-2zM660 723h2v1h-2zM851 659h1v2h-1zM1026 583h1v2h-1zM644 735h1v1h-1zM1028 581h1v1h-1zM1036 570h1v1h-1zM834 679h1v2h-1zM577 727h1v1h-1zM1022 589h1v1h-1zM1024 586h1v1h-1zM1025 585h1v1h-1zM830 684h1v1h-1zM573 723h1v1h-1zM831 683h1v1h-1zM1055 558h1v1h-1zM1061 562h1v1h-1zM574 724h1v1h-1zM829 685h1v1h-1zM819 693h1v1h-1zM993 610h1v1h-1zM994 609h1v1h-1zM865 644h1v1h-1zM828 686h1v1h-1zM803 705h1v1h-1zM808 701h1v1h-1zM655 727h1v1h-1zM863 646h1v1h-1zM864 645h1v1h-1zM798 709h1v1h-1zM575 725h1v1h-1zM807 702h1v1h-1zM861 648h1v1h-1zM659 724h1v1h-1zM862 647h1v1h-1zM802 706h1v1h-1zM835 678h1v1h-1zM843 670h1v1h-1zM1032 575h1v2h-1zM572 722h1v1h-1zM658 725h1v1h-1zM1030 578h1v1h-1zM841 672h1v1h-1zM582 732h1v1h-1zM1027 582h1v1h-1zM578 728h1v1h-1zM1047 560h1v1h-1zM1058 560h1v1h-1zM1023 587h1v2h-1zM1045 562h1v1h-1zM823 690h1v1h-1zM1046 561h1v1h-1zM579 729h1v1h-1zM1051 557h1v1h-1zM1006 598h1v1h-1zM854 656h1v1h-1zM827 687h1v1h-1zM849 662h1v1h-1zM1004 600h1v1h-1zM1039 567h1v1h-1zM584 734h1v1h-1zM848 663h1v2h-1zM850 661h1v1h-1zM870 639h1v1h-1zM871 638h1v1h-1zM1126 574h1v1h-1zM580 730h1v1h-1zM811 699h1v1h-1zM846 666h1v1h-1zM812 698h1v1h-1zM1037 569h1v1h-1zM1035 571h1v2h-1zM844 668h1v2h-1zM847 665h1v1h-1zM801 707h1v1h-1zM806 703h1v1h-1zM576 726h1v1h-1zM586 736h1v1h-1zM581 731h1v1h-1zM1031 577h1v1h-1zM1033 574h1v1h-1zM1029 579h1v2h-1zM1034 573h1v1h-1zM815 696h1v1h-1zM842 671h1v1h-1zM845 667h1v1h-1zM860 649h1v1h-1zM635 741h1v1h-1zM1064 564h1v1h-1zM858 651h1v1h-1zM859 650h1v1h-1zM647 733h1v1h-1zM1052 556h1v1h-1zM583 733h1v1h-1zM1007 597h1v1h-1zM840 673h1v1h-1zM855 654h1v2h-1zM857 652h1v1h-1zM1050 558h1v1h-1zM1005 599h1v1h-1zM838 675h1v1h-1zM853 657h1v1h-1zM212 691h1v1h-1zM1038 568h1v1h-1zM1003 601h1v1h-1zM1043 564h1v1h-1zM836 677h1v1h-1zM1044 563h1v1h-1zM998 605h1v1h-1zM852 658h1v1h-1zM832 682h1v1h-1zM833 681h1v1h-1zM816 695h1v1h-1zM585 735h1v1h-1zM1042 565h1v1h-1zM996 607h1v1h-1zM997 606h1v1h-1zM1002 602h1v1h-1zM868 641h1v1h-1zM869 640h1v1h-1zM820 692h1v1h-1zM995 608h1v1h-1zM1001 603h1v1h-1zM867 642h1v1h-1zM824 689h1v1h-1zM972 618h1v1h-1zM866 643h1v1h-1zM638 739h1v1h-1zM839 674h1v1h-1zM650 731h1v1h-1zM856 653h1v1h-1zM651 730h1v1h-1zM967 621h1v1h-1zM837 676h1v1h-1zM654 728h1v1h-1zM641 737h1v1h-1z" fill="#ffffff" shape-rendering="crispEdges"/>
<path d="M186 705h8v1h-8zM415 705h15v1h-15zM471 705h8v1h-8zM546 705h8v1h-8zM829 705h2v1h-2zM1058 595h2v1h-2zM280 698h11v1h-11zM340 698h15v1h-15zM843 698h2v1h-2zM164 707h11v1h-11zM560 707h5v1h-5zM823 707h3v1h-3zM291 697h8v1h-8zM325 697h15v1h-15zM922 654h3v1h-3zM949 645h4v1h-4zM175 706h11v1h-11zM430 706h41v1h-41zM554 706h6v1h-6zM826 706h3v1h-3zM121 718h3v1h-3zM595 718h3v1h-3zM745 718h11v1h-11zM129 715h2v1h-2zM586 715h3v1h-3zM775 715h15v1h-15zM1072 589h3v1h-3zM112 721h3v1h-3zM604 721h3v1h-3zM715 721h11v1h-11zM250 701h11v1h-11zM374 701h7v1h-7zM837 701h2v1h-2zM1010 623h2v1h-2zM150 709h6v1h-6zM570 709h4v1h-4zM817 709h3v1h-3zM194 704h7v1h-7zM400 704h15v1h-15zM479 704h7v1h-7zM539 704h7v1h-7zM831 704h2v1h-2zM893 667h2v1h-2zM209 702h41v1h-41zM381 702h8v1h-8zM494 702h37v1h-37zM835 702h2v1h-2zM115 720h3v1h-3zM601 720h3v1h-3zM726 720h8v1h-8zM156 708h8v1h-8zM565 708h5v1h-5zM820 708h3v1h-3zM99 726h2v1h-2zM620 726h5v1h-5zM674 726h7v1h-7zM134 713h2v1h-2zM581 713h3v1h-3zM800 713h5v1h-5zM928 652h3v1h-3zM957 643h4v1h-4zM201 703h8v1h-8zM389 703h11v1h-11zM486 703h8v1h-8zM531 703h8v1h-8zM833 703h2v1h-2zM899 664h2v1h-2zM299 696h26v1h-26zM846 696h2v1h-2zM269 699h11v1h-11zM355 699h11v1h-11zM841 699h2v1h-2zM908 660h2v1h-2zM145 710h5v1h-5zM574 710h2v1h-2zM814 710h3v1h-3zM96 727h3v1h-3zM625 727h5v1h-5zM666 727h8v1h-8zM131 714h3v1h-3zM584 714h2v1h-2zM790 714h10v1h-10zM124 717h2v1h-2zM592 717h3v1h-3zM756 717h8v1h-8zM994 629h3v1h-3zM1041 605h2v1h-2zM904 662h2v1h-2zM1084 585h4v1h-4zM1033 610h2v1h-2zM91 729h3v1h-3zM636 729h8v1h-8zM651 729h8v1h-8zM968 639h2v1h-2zM946 646h3v1h-3zM1054 597h2v1h-2zM118 719h3v1h-3zM598 719h3v1h-3zM734 719h11v1h-11zM109 722h3v1h-3zM607 722h3v1h-3zM704 722h11v1h-11zM875 676h2v1h-2zM1110 579h6v1h-6zM852 692h2v1h-2zM940 648h3v1h-3zM1006 625h2v1h-2zM104 724h2v1h-2zM613 724h3v1h-3zM689 724h7v1h-7zM1092 583h4v1h-4zM953 644h4v1h-4zM261 700h8v1h-8zM366 700h8v1h-8zM839 700h2v1h-2zM81 733h3v1h-3zM94 728h2v1h-2zM630 728h6v1h-6zM659 728h7v1h-7zM101 725h3v1h-3zM616 725h4v1h-4zM681 725h8v1h-8zM979 634h3v1h-3zM126 716h3v1h-3zM589 716h3v1h-3zM764 716h11v1h-11zM895 666h2v1h-2zM1116 578h8v1h-8zM1025 615h2v1h-2zM89 730h2v1h-2zM644 730h7v1h-7zM106 723h3v1h-3zM610 723h3v1h-3zM696 723h8v1h-8zM1038 607h2v1h-2zM985 632h3v1h-3zM914 657h2v1h-2zM964 641h2v1h-2zM1030 612h2v1h-2zM1050 599h2v1h-2zM937 649h3v1h-3zM849 694h2v1h-2zM919 655h3v1h-3zM1069 590h3v1h-3zM1003 626h3v1h-3zM77 735h2v1h-2zM891 668h2v1h-2zM997 628h3v1h-3zM925 653h3v1h-3zM140 711h5v1h-5zM576 711h3v1h-3zM810 711h4v1h-4zM1075 588h3v1h-3zM86 731h3v1h-3zM136 712h4v1h-4zM579 712h2v1h-2zM805 712h5v1h-5zM910 659h2v1h-2zM1018 619h2v1h-2zM931 651h3v1h-3zM1060 594h2v1h-2zM1081 586h3v1h-3zM1056 596h2v1h-2zM1105 580h5v1h-5zM961 642h3v1h-3zM943 647h3v1h-3zM858 688h2v1h-2zM887 670h2v1h-2zM982 633h3v1h-3zM883 672h2v1h-2zM906 661h2v1h-2zM1014 621h2v1h-2zM1047 601h2v1h-2zM1100 581h5v1h-5zM901 663h3v1h-3zM1028 613h2v1h-2zM1020 618h2v1h-2zM1052 598h2v1h-2zM1044 603h2v1h-2zM916 656h3v1h-3zM862 685h2v1h-2zM1124 577h3v1h-3zM1088 584h4v1h-4zM855 690h2v1h-2zM1066 591h3v1h-3zM79 734h2v1h-2zM866 682h2v1h-2zM879 674h2v1h-2zM1062 593h2v1h-2zM870 679h2v1h-2zM1000 627h3v1h-3zM1096 582h4v1h-4zM1078 587h3v1h-3zM897 665h2v1h-2zM1016 620h2v1h-2zM934 650h3v1h-3zM988 631h3v1h-3zM912 658h2v1h-2zM889 669h2v1h-2zM974 636h2v1h-2zM885 671h2v1h-2zM1012 622h2v1h-2zM1008 624h2v1h-2zM991 630h3v1h-3zM970 638h2v1h-2zM881 673h2v1h-2zM1064 592h2v1h-2zM966 640h2v1h-2zM1035 609h2v1h-2zM877 675h2v1h-2zM976 635h3v1h-3zM873 677h2v1h-2zM972 637h2v1h-2zM84 732h2v1h-2zM1023 616h2v1h-2zM864 684h1v1h-1zM868 681h1v1h-1zM1022 617h1v1h-1zM869 680h1v1h-1zM1046 602h1v1h-1zM854 691h1v1h-1zM1037 608h1v1h-1zM872 678h1v1h-1zM845 697h1v1h-1zM1049 600h1v1h-1zM851 693h1v1h-1zM857 689h1v1h-1zM861 686h1v1h-1zM1040 606h1v1h-1zM1032 611h1v1h-1zM848 695h1v1h-1zM1043 604h1v1h-1zM860 687h1v1h-1zM865 683h1v1h-1zM1027 614h1v1h-1z" fill="#dcdc1e" shape-rendering="crispEdges"/>
<g shape-rendering="crispEdges">
<rect x="1035" y="73" width="7" height="1" fill="#ffffff"/>
<rect x="1037" y="71" width="1" height="4" fill="#ffffff"/>
<rect x="585" y="501" width="7" height="1" fill="#ffffff"/>
<rect x="587" y="499" width="1" height="4" fill="#ffffff"/>
</g>
<text x="1042.5" y="70" font-family="Liberation Sans, sans-serif" font-size="12" font-weight="bold" fill="#eb4d5d" textLength="30.8">70.56</text>
<text x="592" y="513" font-family="Liberation Sans, sans-serif" font-size="12" font-weight="bold" fill="#54ba89" textLength="30.8">58.69</text>
<text x="66.2" y="24.5" font-family="Liberation Sans, sans-serif" font-size="12" fill="#f2f2f2" text-anchor="end" textLength="30.8">71.98</text>
<text x="1183.6" y="24.5" font-family="Liberation Sans, sans-serif" font-size="12" fill="#f2f2f2" textLength="30.8">71.98</text>
<text x="66.2" y="81.5" font-family="Liberation Sans, sans-serif" font-size="12" fill="#f2f2f2" text-anchor="end" textLength="30.8">70.40</text>
<text x="1183.6" y="81.5" font-family="Liberation Sans, sans-serif" font-size="12" fill="#f2f2f2" textLength="30.8">70.40</text>
<text x="66.2" y="138.5" font-family="Liberation Sans, sans-serif" font-size="12" fill="#f2f2f2" text-anchor="end" textLength="30.8">68.82</text>
<text x="1183.6" y="138.5" font-family="Liberation Sans, sans-serif" font-size="12" fill="#f2f2f2" textLength="30.8">68.82</text>
<text x="66.2" y="195.5" font-family="Liberation Sans, sans-serif" font-size="12" fill="#f2f2f2" text-anchor="end" textLength="30.8">67.24</text>
<text x="1183.6" y="195.5" font-family="Liberation Sans, sans-serif" font-size="12" fill="#f2f2f2" textLength="30.8">67.24</text>
<text x="66.2" y="252.5" font-family="Liberation Sans, sans-serif" font-size="12" fill="#f2f2f2" text-anchor="end" textLength="30.8">65.66</text>
<text x="1183.6" y="252.5" font-family="Liberation Sans, sans-serif" font-size="12" fill="#f2f2f2" textLength="30.8">65.66</text>
<text x="66.2" y="309.5" font-family="Liberation Sans, sans-serif" font-size="12" fill="#f2f2f2" text-anchor="end" textLength="30.8">64.08</text>
<text x="1183.6" y="309.5" font-family="Liberation Sans, sans-serif" font-size="12" fill="#f2f2f2" textLength="30.8">64.08</text>
<text x="66.2" y="366.5" font-family="Liberation Sans, sans-serif" font-size="12" fill="#f2f2f2" text-anchor="end" textLength="30.8">62.50</text>
<text x="1183.6" y="366.5" font-family="Liberation Sans, sans-serif" font-size="12" fill="#f2f2f2" textLength="30.8">62.50</text>
<text x="66.2" y="423.5" font-family="Liberation Sans, sans-serif" font-size="12" fill="#f2f2f2" text-anchor="end" textLength="30.8">60.92</text>
<text x="1183.6" y="423.5" font-family="Liberation Sans, sans-serif" font-size="12" fill="#f2f2f2" textLength="30.8">60.92</text>
<text x="66.2" y="480.5" font-family="Liberation Sans, sans-serif" font-size="12" fill="#f2f2f2" text-anchor="end" textLength="30.8">59.34</text>
<text x="1183.6" y="480.5" font-family="Liberation Sans, sans-serif" font-size="12" fill="#f2f2f2" textLength="30.8">59.34</text>
<text x="66.2" y="559.5" font-family="Liberation Sans, sans-serif" font-size="12" fill="#f2f2f2" text-anchor="end" textLength="23.9">1.68</text>
<text x="1183.6" y="559.5" font-family="Liberation Sans, sans-serif" font-size="12" fill="#f2f2f2" textLength="23.9">1.68</text>
<text x="66.2" y="582.5" font-family="Liberation Sans, sans-serif" font-size="12" fill="#f2f2f2" text-anchor="end" textLength="23.9">1.35</text>
<text x="1183.6" y="582.5" font-family="Liberation Sans, sans-serif" font-size="12" fill="#f2f2f2" textLength="23.9">1.35</text>
<text x="66.2" y="606.5" font-family="Liberation Sans, sans-serif" font-size="12" fill="#f2f2f2" text-anchor="end" textLength="23.9">1.03</text>
<text x="1183.6" y="606.5" font-family="Liberation Sans, sans-serif" font-size="12" fill="#f2f2f2" textLength="23.9">1.03</text>
<text x="66.2" y="630.5" font-family="Liberation Sans, sans-serif" font-size="12" fill="#f2f2f2" text-anchor="end" textLength="23.9">0.70</text>
<text x="1183.6" y="630.5" font-family="Liberation Sans, sans-serif" font-size="12" fill="#f2f2f2" textLength="23.9">0.70</text>
<text x="66.2" y="653.5" font-family="Liberation Sans, sans-serif" font-size="12" fill="#f2f2f2" text-anchor="end" textLength="23.9">0.37</text>
<text x="1183.6" y="653.5" font-family="Liberation Sans, sans-serif" font-size="12" fill="#f2f2f2" textLength="23.9">0.37</text>
<text x="66.2" y="677.5" font-family="Liberation Sans, sans-serif" font-size="12" fill="#f2f2f2" text-anchor="end" textLength="23.9">0.04</text>
<text x="1183.6" y="677.5" font-family="Liberation Sans, sans-serif" font-size="12" fill="#f2f2f2" textLength="23.9">0.04</text>
<text x="66.2" y="700.5" font-family="Liberation Sans, sans-serif" font-size="12" fill="#f2f2f2" text-anchor="end" textLength="28.0">-0.29</text>
<text x="1183.6" y="700.5" font-family="Liberation Sans, sans-serif" font-size="12" fill="#f2f2f2" textLength="28.0">-0.29</text>
<text x="66.2" y="723.5" font-family="Liberation Sans, sans-serif" font-size="12" fill="#f2f2f2" text-anchor="end" textLength="28.0">-0.62</text>
<text x="1183.6" y="723.5" font-family="Liberation Sans, sans-serif" font-size="12" fill="#f2f2f2" textLength="28.0">-0.62</text>
<g shape-rendering="crispEdges">
<rect x="1180" y="170" width="69" height="18" fill="#f6a233"/>
<rect x="1181" y="171" width="67" height="16" fill="#000000"/>
<rect x="1240" y="162" width="9" height="8" fill="#000000"/>
</g>
<path d="M1240,165.8 L1244.5,162 L1249,165.8 Z M1240,170 L1244.5,166.4 L1249,170 Z" fill="#f6a233"/>
<text x="1183.5" y="183.3" font-family="Liberation Sans, sans-serif" font-size="12" fill="#f09030">67.87</text>
<text x="70.5" y="14.5" font-family="Liberation Sans, Noto Sans CJK SC, sans-serif" font-size="12" fill="#f2f2f2">布伦特原油连续</text>
<text x="156.5" y="14.5" font-family="Liberation Sans, Noto Sans CJK SC, sans-serif" font-size="12" fill="#ff6a00">【日线】</text>
<g stroke="#ff7000" stroke-width="0.85" fill="none"><circle cx="208.5" cy="11.5" r="4.3"/><path d="M204.2,11.5 H212.8 M208.5,7.2 V15.8"/></g>
<g shape-rendering="crispEdges"><rect x="221" y="2" width="12" height="13" fill="#8a8a8a"/><rect x="220" y="1" width="12" height="13" fill="#00008c"/><rect x="221" y="2" width="10" height="11" fill="#ffffff"/></g>
<polyline points="221,9.2 224.5,4.9 227.5,8.2 229.6,5.9 231,5.9" fill="none" stroke="#ff0000" stroke-width="1" shape-rendering="crispEdges"/>
<polyline points="220.8,12.2 224.5,8.1 227.5,11.2 229.6,8.9 231,8.9" fill="none" stroke="#0000ff" stroke-width="1" shape-rendering="crispEdges"/>
<g shape-rendering="crispEdges"><rect x="529" y="2" width="12" height="13" fill="#8a8a8a"/><rect x="528" y="1" width="12" height="13" fill="#00008c"/><rect x="529" y="2" width="10" height="11" fill="#ffffff"/></g>
<polyline points="529,9.2 532.5,4.9 535.5,8.2 537.6,5.9 539,5.9" fill="none" stroke="#ff0000" stroke-width="1" shape-rendering="crispEdges"/>
<polyline points="528.8,12.2 532.5,8.1 535.5,11.2 537.6,8.9 539,8.9" fill="none" stroke="#0000ff" stroke-width="1" shape-rendering="crispEdges"/>
<text x="235.5" y="14" font-family="Liberation Sans, sans-serif" font-size="12" fill="#f2f2f2" textLength="61.3" lengthAdjust="spacing">BOLL(26,2)</text>
<text x="300.8" y="14" font-family="Liberation Sans, sans-serif" font-size="12" fill="#f2f2f2" textLength="59" lengthAdjust="spacing">MID:65.16</text>
<text x="368.3" y="14" font-family="Liberation Sans, sans-serif" font-size="12" fill="#dcdc1e" textLength="71.2" lengthAdjust="spacing">UPPER:70.56</text>
<text x="447.8" y="14" font-family="Liberation Sans, sans-serif" font-size="12" fill="#e61ee6" textLength="76.5" lengthAdjust="spacing">LOWER:59.77</text>
<text x="542.8" y="14" font-family="Liberation Sans, sans-serif" font-size="12" fill="#f2f2f2" textLength="79" lengthAdjust="spacing">MA1(0,0,0,50)</text>
<text x="625.8" y="14" font-family="Liberation Sans, sans-serif" font-size="12" fill="#f2f2f2" textLength="60.8" lengthAdjust="spacing">MA0:67.87</text>
<text x="695" y="14" font-family="Liberation Sans, sans-serif" font-size="12" fill="#dcdc1e" textLength="60.8" lengthAdjust="spacing">MA0:67.87</text>
<text x="764.1" y="14" font-family="Liberation Sans, sans-serif" font-size="12" fill="#e61ee6" textLength="60.8" lengthAdjust="spacing">MA0:67.87</text>
<text x="833.2" y="14" font-family="Liberation Sans, sans-serif" font-size="12" fill="#1ecc1e" textLength="68" lengthAdjust="spacing">MA50:63.49</text>
<text x="71.2" y="549" font-family="Liberation Sans, sans-serif" font-size="12" fill="#f2f2f2" textLength="85.2" lengthAdjust="spacing">MACD(26,12,9)</text>
<text x="161.2" y="549" font-family="Liberation Sans, sans-serif" font-size="12" fill="#f2f2f2" textLength="51.3" lengthAdjust="spacing">DIFF:1.44</text>
<text x="221.2" y="549" font-family="Liberation Sans, sans-serif" font-size="12" fill="#dcdc1e" textLength="51.2" lengthAdjust="spacing">DEA:1.38</text>
<text x="280.3" y="549" font-family="Liberation Sans, sans-serif" font-size="12" fill="#e61ee6" textLength="63.5" lengthAdjust="spacing">MACD:0.13</text>
<rect x="1116" y="0" width="16" height="16" fill="#000000" shape-rendering="crispEdges"/>
<rect x="1117.5" y="1.5" width="13" height="13" fill="#000000" stroke="#bebebe" stroke-width="1" shape-rendering="crispEdges"/>
<rect x="1132" y="0" width="16" height="16" fill="#000000" shape-rendering="crispEdges"/>
<rect x="1133.5" y="1.5" width="13" height="13" fill="#000000" stroke="#bebebe" stroke-width="1" shape-rendering="crispEdges"/>
<rect x="1148" y="0" width="16" height="16" fill="#000000" shape-rendering="crispEdges"/>
<rect x="1149.5" y="1.5" width="13" height="13" fill="#000000" stroke="#bebebe" stroke-width="1" shape-rendering="crispEdges"/>
<rect x="1164" y="0" width="16" height="16" fill="#000000" shape-rendering="crispEdges"/>
<rect x="1165.5" y="1.5" width="13" height="13" fill="#000000" stroke="#bebebe" stroke-width="1" shape-rendering="crispEdges"/>
<g shape-rendering="crispEdges">
<rect x="1123" y="3" width="2" height="3" fill="#bebebe"/>
<rect x="1123" y="10" width="2" height="3" fill="#bebebe"/>
<rect x="1119" y="7" width="3" height="2" fill="#bebebe"/>
<rect x="1126" y="7" width="3" height="2" fill="#bebebe"/>
<rect x="1123" y="7" width="2" height="2" fill="#bebebe"/>
<rect x="1136" y="3" width="1" height="10" fill="#bebebe"/>
<rect x="1135" y="11" width="10" height="1" fill="#bebebe"/>
<rect x="1135" y="4" width="1" height="1" fill="#bebebe"/>
<rect x="1137" y="4" width="1" height="1" fill="#bebebe"/>
<rect x="1143" y="10" width="1" height="1" fill="#bebebe"/>
<rect x="1143" y="12" width="1" height="1" fill="#bebebe"/>
<rect x="1152" y="3" width="1" height="10" fill="#bebebe"/>
<rect x="1151" y="11" width="10" height="1" fill="#bebebe"/>
<rect x="1151" y="4" width="1" height="1" fill="#bebebe"/>
<rect x="1153" y="4" width="1" height="1" fill="#bebebe"/>
<rect x="1159" y="10" width="1" height="1" fill="#bebebe"/>
<rect x="1159" y="12" width="1" height="1" fill="#bebebe"/>
<rect x="1139" y="4" width="1" height="6" fill="#bebebe"/>
<rect x="1167" y="3" width="1" height="10" fill="#bebebe"/>
<rect x="1167" y="3" width="4" height="1" fill="#bebebe"/>
<rect x="1167" y="12" width="4" height="1" fill="#bebebe"/>
<rect x="1170" y="3" width="1" height="10" fill="#bebebe"/>
<rect x="1170" y="7" width="4" height="1" fill="#bebebe"/>
</g>
<path d="M1143.4,4.2 L1140.8,7 L1143.4,9.8 Z" fill="#bebebe"/>
<path d="M1155.5,4 L1160.2,7.3 L1155.5,10.5 Z" fill="#9a9a9a"/>
<path d="M1173.3,4.8 L1176.2,7.5 L1173.3,10.2 Z" fill="#bebebe"/>
<g><circle cx="8" cy="541.7" r="4.6" fill="#000"/><circle cx="8" cy="541.7" r="3.5" fill="#fff"/><circle cx="8" cy="541.7" r="2.1" fill="#ff0000"/>
<line x1="13.3" y1="541.7" x2="15.5" y2="541.7" stroke="#ff0000" stroke-width="1.2"/>
<line x1="11.7" y1="545.4" x2="13.3" y2="547.0" stroke="#ff0000" stroke-width="1.2"/>
<line x1="8.0" y1="547.0" x2="8.0" y2="549.2" stroke="#ff0000" stroke-width="1.2"/>
<line x1="4.3" y1="545.4" x2="2.7" y2="547.0" stroke="#ff0000" stroke-width="1.2"/>
<line x1="2.7" y1="541.7" x2="0.5" y2="541.7" stroke="#ff0000" stroke-width="1.2"/>
<line x1="4.3" y1="538.0" x2="2.7" y2="536.4" stroke="#ff0000" stroke-width="1.2"/>
<line x1="8.0" y1="536.4" x2="8.0" y2="534.2" stroke="#ff0000" stroke-width="1.2"/>
<line x1="11.7" y1="538.0" x2="13.3" y2="536.4" stroke="#ff0000" stroke-width="1.2"/>
</g>
<rect x="266" y="744" width="110" height="17" fill="#000000" shape-rendering="crispEdges"/>
<text x="14" y="760" font-family="Liberation Sans, Noto Sans CJK SC, sans-serif" font-size="12" font-weight="bold" fill="#ff6a00">日线</text>
<path d="M43.5,759 L48,751 L52.5,759 Z" fill="#ff6a00"/>
<text x="124" y="757" font-family="Liberation Sans, sans-serif" font-size="12" font-weight="bold" fill="#ffffff" textLength="44.6" lengthAdjust="spacing">2025/11</text>
<text x="424" y="757" font-family="Liberation Sans, sans-serif" font-size="12" font-weight="bold" fill="#ffffff" textLength="44.6" lengthAdjust="spacing">2025/12</text>
<text x="754" y="757" font-family="Liberation Sans, sans-serif" font-size="12" font-weight="bold" fill="#ffffff" textLength="44.6" lengthAdjust="spacing">2026/01</text>
<text x="1069" y="757" font-family="Liberation Sans, sans-serif" font-size="12" font-weight="bold" fill="#ffffff" textLength="44.6" lengthAdjust="spacing">2026/02</text>
<g>
<rect x="1131" y="708.8" width="32.3" height="32.1" rx="2.8" fill="#ff7f0e"/>
<circle cx="1147.4" cy="724.85" r="12.4" fill="#ffffff"/>
<circle cx="1150.3" cy="722.4" r="6.8" fill="#ff7f0e"/>
<path d="M1154.6,714.4 L1149.3,716 L1150.3,722.4 L1156.9,721.6 L1158.6,719 L1162,711.5 Z" fill="#ff7f0e"/>
<path d="M1136.9,724.6 Q1138.3,718.6 1144.6,716.4" fill="none" stroke="#ff7f0e" stroke-width="0.7"/>
<text x="1168.5" y="729.5" font-family="Liberation Sans, Noto Sans CJK SC, sans-serif" font-size="21.5" font-weight="bold" fill="#f9ebde">汇金网</text>
<text x="1169" y="739.6" font-family="Liberation Sans, sans-serif" font-size="7.5" fill="#d9d0c8" textLength="64.5" lengthAdjust="spacingAndGlyphs">www.gold678.com</text>
</g>
</svg></body></html>
